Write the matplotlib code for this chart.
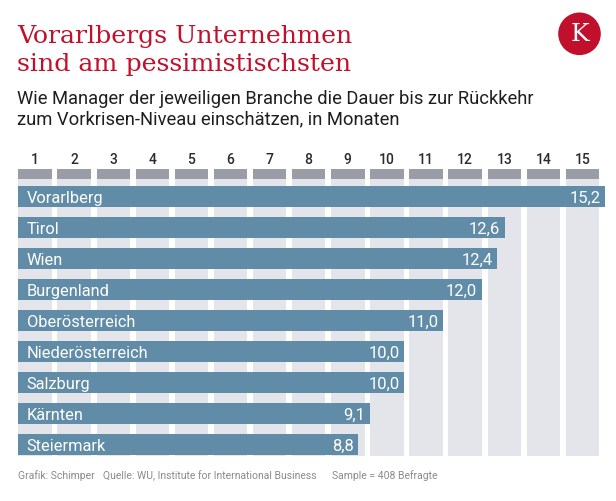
import matplotlib
matplotlib.use("Agg")
import matplotlib.pyplot as plt
from matplotlib.patches import Rectangle, Circle

# ---- data ----
regions = ["Vorarlberg", "Tirol", "Wien", "Burgenland", "Oberösterreich",
           "Niederösterreich", "Salzburg", "Kärnten", "Steiermark"]
months = [15.2, 12.6, 12.4, 12.0, 11.0, 10.0, 10.0, 9.1, 8.8]
month_ticks = list(range(1, 16))

title = "Vorarlbergs Unternehmen\nsind am pessimistischsten"
subtitle_1 = "Wie Manager der jeweiligen Branche die Dauer bis zur Rückkehr"
subtitle_2 = "zum Vorkrisen-Niveau einschätzen, in Monaten"
footer_1 = "Grafik: Schimper"
footer_2 = "Quelle: WU, Institute for International Business"
footer_3 = "Sample = 408 Befragte"

# ---- style ----
W, H = 616, 501
RED = "#c0102b"
BAR = "#618ca8"
COL_LIGHT = "#e4e5ea"
COL_HEAD = "#9a9ca6"
SANS = ["Roboto", "DejaVu Sans"]

fig = plt.figure(figsize=(W / 100, H / 100), dpi=100)
fig.patch.set_facecolor("white")

def fx(x):
    return x / W

def fy(y):
    return 1 - y / H

# chart axes in pixel-calibrated data units
px_per_unit = 38.6
x0_px = 18.3
row_px = 31.0
row0_px = 196.5
ax_top, ax_bot = 145.0, 470.0
ax = fig.add_axes([fx(x0_px), fy(ax_bot), (W - x0_px) / W, (ax_bot - ax_top) / H])
ax.set_xlim(0, (W - x0_px) / px_per_unit)
ax.set_ylim((ax_bot - row0_px) / row_px, (ax_top - row0_px) / row_px)
ax.axis("off")

# background columns
col_pitch = 39.1 / px_per_unit
col_w = 33.4 / px_per_unit
head_top = (169.3 - row0_px) / row_px
head_bot = (179.3 - row0_px) / row_px
col_bot = (455.5 - row0_px) / row_px
for k in month_ticks:
    left = (k - 1) * col_pitch
    ax.add_patch(Rectangle((left, head_bot), col_w, col_bot - head_bot,
                           facecolor=COL_LIGHT, edgecolor="none", zorder=1))
    ax.add_patch(Rectangle((left, head_top), col_w, head_bot - head_top,
                           facecolor=COL_HEAD, edgecolor="none", zorder=2))
    ax.text(left + col_w / 2, (163.5 - row0_px) / row_px, str(k),
            ha="center", va="baseline", fontsize=10, family=SANS,
            fontweight="medium", color="#2a2a2a")

# bars
ys = list(range(len(regions)))
ax.barh(ys, months, height=21.0 / row_px, left=0, color=BAR,
        edgecolor="none", zorder=3)

for y, name, v in zip(ys, regions, months):
    ax.text(8.3 / px_per_unit, y + 0.22, name, ha="left", va="baseline",
            fontsize=11.8, family=SANS, color="white", zorder=4)
    ax.text(v - 4.5 / px_per_unit, y + 0.22, f"{v:.1f}".replace(".", ","),
            ha="right", va="baseline", fontsize=12, family=SANS,
            color="white", zorder=4)

# titles
fig.text(fx(17), fy(43.5), title.split("\n")[0], ha="left", va="baseline",
         fontsize=18.2, family="DejaVu Serif", color=RED)
fig.text(fx(17), fy(71), title.split("\n")[1], ha="left", va="baseline",
         fontsize=18.2, family="DejaVu Serif", color=RED)
fig.text(fx(17), fy(104), subtitle_1, ha="left", va="baseline",
         fontsize=13.2, family=SANS, color="#1e1e1e")
fig.text(fx(17), fy(124), subtitle_2, ha="left", va="baseline",
         fontsize=13.2, family=SANS, color="#1e1e1e")

# logo
logo_ax = fig.add_axes([0, 0, 1, 1], zorder=-1)
logo_ax.set_xlim(0, W)
logo_ax.set_ylim(H, 0)
logo_ax.axis("off")
logo_ax.add_patch(Circle((579.5, 33.8), 21.3, facecolor=RED, edgecolor="none"))
logo_ax.text(579.5, 34.5, "K", ha="center", va="center", fontsize=18,
             family="DejaVu Serif", color="white")

# footer
for xpx, t in [(18, footer_1), (103.3, footer_2), (331.7, footer_3)]:
    fig.text(fx(xpx), fy(479), t, ha="left", va="baseline", fontsize=7.5,
             family=SANS, color="#8a8a8a")

fig.savefig("out.png", dpi=100, facecolor="white")
